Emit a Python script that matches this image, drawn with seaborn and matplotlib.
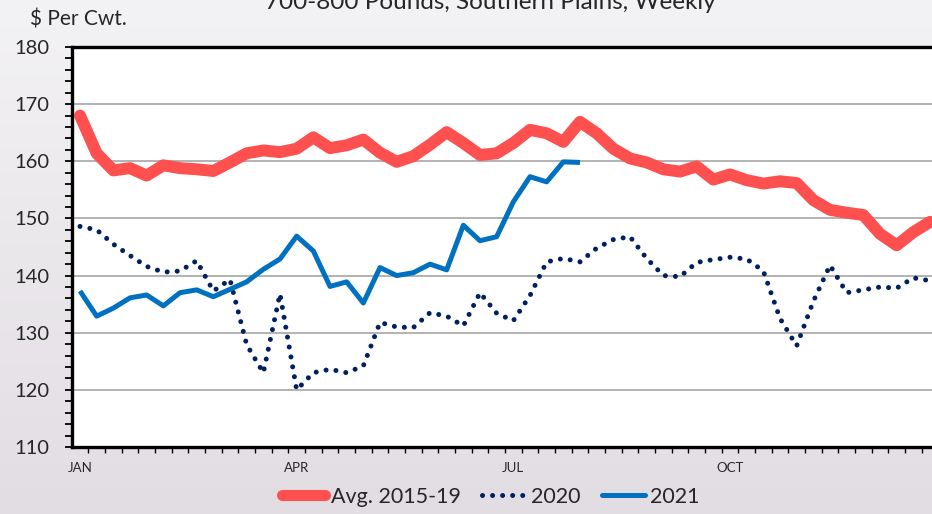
import numpy as np
import pandas as pd
import matplotlib
matplotlib.use('Agg')
import matplotlib.pyplot as plt
from matplotlib.lines import Line2D
from matplotlib.colors import LinearSegmentedColormap
import seaborn as sns

# weekly steer prices, $ per cwt
avg_2015_19 = [168.0, 161.4, 158.4, 158.8, 157.5, 159.3, 158.8, 158.6, 158.3, 159.8,
               161.4, 161.9, 161.6, 162.2, 164.2, 162.3, 162.8, 163.8, 161.5, 159.9,
               160.9, 162.9, 165.1, 163.2, 161.1, 161.4, 163.2, 165.5, 164.9, 163.4,
               166.9, 164.9, 162.2, 160.5, 159.8, 158.6, 158.2, 159.1, 156.8, 157.7,
               156.7, 156.1, 156.5, 156.2, 153.2, 151.5, 151.0, 150.6, 147.3, 145.3,
               147.6, 149.4]
y2020 = [148.6, 148.0, 145.5, 143.5, 141.6, 140.6, 140.8, 142.6, 137.3, 139.3,
         127.9, 123.0, 136.8, 120.0, 123.0, 123.6, 123.0, 124.2, 131.8, 131.0,
         130.9, 133.5, 132.9, 131.2, 137.0, 133.4, 132.1, 136.5, 142.4, 143.0,
         142.4, 144.8, 146.3, 146.8, 143.0, 140.0, 139.8, 142.3, 142.8, 143.2,
         142.9, 140.8, 132.5, 127.7, 135.5, 141.8, 137.0, 137.5, 138.0, 137.8,
         139.6, 139.1]
y2021 = [137.3, 132.9, 134.3, 136.1, 136.6, 134.7, 137.0, 137.5, 136.3, 137.6,
         138.9, 141.1, 142.9, 146.9, 144.3, 138.1, 138.9, 135.2, 141.4, 140.0,
         140.5, 142.0, 141.0, 148.8, 146.1, 146.8, 152.9, 157.3, 156.4, 159.9,
         159.8]

month_ticks = [0, 13, 26, 39]
month_labels = ['JAN', 'APR', 'JUL', 'OCT']

RED = '#FF5050'
NAVY = '#002060'
BLUE = '#0070C0'

sns.set_theme(style='white')
plt.rcParams['font.family'] = ['Lato', 'DejaVu Sans']

fig = plt.figure(figsize=(9.32, 5.14), dpi=100, facecolor='#EBE8EC')

# slide-style background: light at the top, a bit darker at the bottom
bg = fig.add_axes([0, 0, 1, 1], zorder=-10)
bg_cmap = LinearSegmentedColormap.from_list('bg', ['#F3F2F4', '#E2DDE3'])
bg.imshow(np.linspace(0, 1, 256).reshape(-1, 1), aspect='auto', cmap=bg_cmap,
          extent=(0, 1, 0, 1))
bg.axis('off')

ax = fig.add_axes([72 / 932, 1 - 447 / 514, 1 - 72 / 932, 400 / 514])
ax.set_facecolor('white')

sns.lineplot(x=np.arange(len(avg_2015_19)), y=avg_2015_19, ax=ax, color=RED,
             linewidth=8.6, solid_joinstyle='round', solid_capstyle='round')
sns.lineplot(x=np.arange(len(y2020)), y=y2020, ax=ax, color=NAVY,
             linewidth=3.6, linestyle=(0, (0.01, 2.0)), dash_capstyle='round')
sns.lineplot(x=np.arange(len(y2021)), y=y2021, ax=ax, color=BLUE,
             linewidth=3.6, solid_joinstyle='round', solid_capstyle='butt')

ax.set_xlim(-0.48, 51.12)
ax.set_ylim(110, 180)
ax.set_yticks(np.arange(110, 181, 10))
ax.set_yticks(np.arange(110, 181, 2), minor=True)
ax.set_xticks(month_ticks)
ax.set_xticklabels(month_labels)
ax.set_xticks(np.arange(0.5, 51, 1), minor=True)

ax.yaxis.grid(True, color='#A6A6A6', linewidth=1.2)
ax.set_axisbelow(True)

ax.tick_params(axis='y', which='both', direction='out', length=5, width=1.3,
               color='black', left=True, labelsize=14.5, pad=11)
ax.tick_params(axis='x', which='major', length=0, labelsize=9.5, pad=11)
ax.tick_params(axis='x', which='minor', direction='out', length=4, width=1.0,
               color='black', bottom=True)

for side in ['left', 'top', 'bottom']:
    ax.spines[side].set_visible(True)
    ax.spines[side].set_color('black')
    ax.spines[side].set_linewidth(2.4)
ax.spines['right'].set_visible(False)
ax.set_xlabel('')
ax.set_ylabel('')

fig.text(30 / 932, 1 - 20 / 514, '$ Per Cwt.', fontsize=15, va='center', ha='left')
fig.text(490 / 932, 1 - 9 / 514, '700-800 Pounds, Southern Plains, Weekly',
         fontsize=17.5, ha='center', va='baseline')

handles = [
    Line2D([], [], color=RED, linewidth=8.0, solid_capstyle='round'),
    Line2D([], [], color=NAVY, linewidth=3.6, linestyle=(0, (0.01, 2.0)),
           dash_capstyle='round'),
    Line2D([], [], color=BLUE, linewidth=3.6, solid_capstyle='round'),
]
fig.legend(handles, ['Avg. 2015-19', '2020', '2021'], loc='center',
           bbox_to_anchor=(491 / 932, 1 - 497 / 514), ncol=3, frameon=False,
           fontsize=15.5, handlelength=2.0, handletextpad=0.25, columnspacing=1.0)

fig.savefig('out.png', dpi=100, facecolor=fig.get_facecolor())
